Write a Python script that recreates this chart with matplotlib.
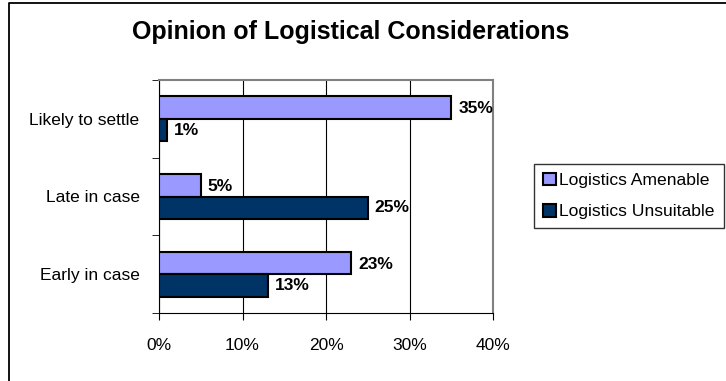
import matplotlib.pyplot as plt
import numpy as np
from matplotlib.lines import Line2D

plt.rcParams["font.family"] = ["Liberation Sans", "DejaVu Sans"]

categories = ["Early in case", "Late in case", "Likely to settle"]
amenable = [23, 5, 35]
unsuitable = [13, 25, 1]
series_names = ["Logistics Amenable", "Logistics Unsuitable"]
colors = ["#9999FF", "#003366"]

W, H = 726, 381
fig = plt.figure(figsize=(W / 100, H / 100), dpi=100)

# outer chart border (only top and left edges fall inside the image)
fig.lines.append(Line2D([8.5 / W, 8.5 / W, 1.0], [0.0, 1 - 3 / H, 1 - 3 / H],
                        transform=fig.transFigure, color="black", linewidth=1.3))

ax = fig.add_axes([159 / W, 1 - 313 / H, (493 - 159) / W, (313 - 80) / H])

y = np.arange(len(categories))
h = 0.29
ax.barh(y + h / 2, amenable, height=h, color=colors[0], edgecolor="black",
        linewidth=1.5, label=series_names[0], zorder=3)
ax.barh(y - h / 2, unsuitable, height=h, color=colors[1], edgecolor="black",
        linewidth=1.5, label=series_names[1], zorder=3)

for yi, v in zip(y, amenable):
    ax.annotate(f"{v}%", (v, yi + h / 2), xytext=(5, -1), textcoords="offset points",
                ha="left", va="center", fontsize=12.5, fontweight="bold")
for yi, v in zip(y, unsuitable):
    ax.annotate(f"{v}%", (v, yi - h / 2), xytext=(5, 0), textcoords="offset points",
                ha="left", va="center", fontsize=12.5, fontweight="bold")

ax.set_xlim(0, 40)
ax.set_ylim(-0.5, 2.5)
ax.set_xticks([0, 10, 20, 30, 40])
ax.set_xticklabels(["0%", "10%", "20%", "30%", "40%"], fontsize=12.5)
ax.set_yticks(y)
ax.set_yticklabels(categories, fontsize=12.5)
ax.set_yticks([-0.5, 0.5, 1.5, 2.5], minor=True)
ax.tick_params(axis="y", which="major", length=0, pad=14)
ax.tick_params(axis="y", which="minor", length=5, direction="out")
ax.tick_params(axis="x", length=5, direction="out", pad=13)
ax.grid(True, axis="x", color="black", linewidth=0.8, zorder=0)
for side in ["top", "right"]:
    ax.spines[side].set_color("#808080")
    ax.spines[side].set_linewidth(1.5)
ax.spines["left"].set_color("black")
ax.spines["bottom"].set_color("black")

fig.text(351 / W, 1 - 32 / H, "Opinion of Logistical Considerations",
         ha="center", va="center", fontsize=18, fontweight="bold")

leg = fig.legend(loc="center left", bbox_to_anchor=(534 / W, 1 - 196 / H),
                 fontsize=12.6, frameon=True, fancybox=False, edgecolor="black",
                 handlelength=0.75, handleheight=0.75, handletextpad=0.2,
                 borderpad=0.5, labelspacing=0.9, borderaxespad=0)
leg.get_frame().set_linewidth(1.0)

fig.savefig("out.png", dpi=100)
